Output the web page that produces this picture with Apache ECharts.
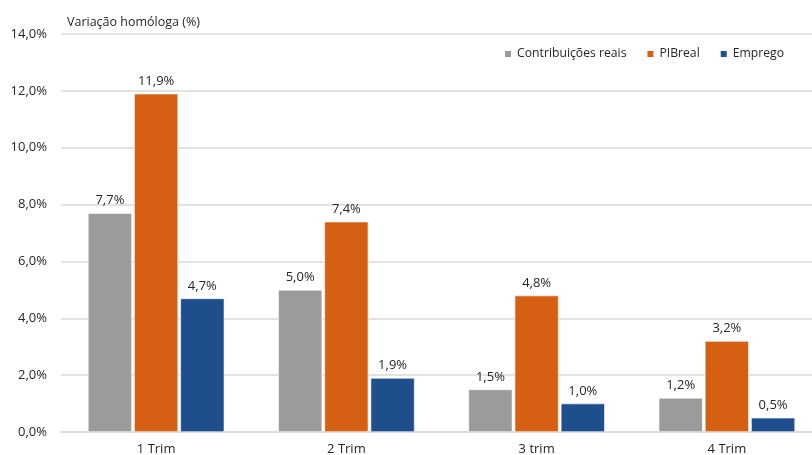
<!DOCTYPE html>
<html>
<head>
<meta charset="utf-8">
<script src="https://cdn.jsdelivr.net/npm/echarts@6/dist/echarts.min.js"></script>
<style>
  html, body { margin: 0; padding: 0; background: #fff; }
  #chart { width: 812px; height: 455px; }
</style>
</head>
<body>
<div id="chart"></div>
<script>
// Quarterly year-on-year change (%)
const categories = ['1 Trim', '2 Trim', '3 trim', '4 Trim'];
const contribuicoes = [7.7, 5.0, 1.5, 1.2];
const pibReal = [11.9, 7.4, 4.8, 3.2];
const emprego = [4.7, 1.9, 1.0, 0.5];
const yTicks = [0, 2, 4, 6, 8, 10, 12, 14];

const FONT = '"Open Sans", "Noto Sans", sans-serif';
const fmt = v => v.toFixed(1).replace('.', ',') + '%';

function barSeries(name, data, color) {
  return {
    name: name,
    type: 'bar',
    data: data,
    barWidth: 44,
    barGap: '5%',
    itemStyle: { color: color, borderColor: '#ffffff', borderWidth: 0.6 },
    label: {
      show: true,
      position: 'top',
      distance: 6,
      color: '#262626',
      fontFamily: FONT,
      fontSize: 13,
      formatter: p => fmt(p.value)
    }
  };
}

const chart = echarts.init(document.getElementById('chart'), null, { renderer: 'canvas' });
chart.setOption({
  animation: false,
  backgroundColor: '#ffffff',
  textStyle: { fontFamily: FONT },
  // plot area runs a little past the right edge of the canvas
  grid: { left: 61, width: 761, top: 34, bottom: 23, containLabel: false, outerBoundsMode: 'none' },
  legend: {
    top: 48,
    right: 28,
    padding: 0,
    itemWidth: 8,
    itemHeight: 8,
    itemGap: 19,
    icon: 'rect',
    textStyle: { color: '#262626', fontSize: 12.2, fontFamily: FONT },
    data: ['Contribuições reais', 'PIBreal', 'Emprego']
  },
  title: {
    text: 'Variação homóloga (%)',
    left: 62,
    top: 11,
    textStyle: { fontSize: 12.5, fontWeight: 'normal', color: '#262626', fontFamily: FONT }
  },
  xAxis: {
    type: 'category',
    data: categories,
    axisLine: { show: true, lineStyle: { color: '#d9d9d9', width: 1.5 } },
    axisTick: { show: false },
    axisLabel: { color: '#262626', fontSize: 13, margin: 11, fontFamily: FONT }
  },
  yAxis: {
    type: 'value',
    min: yTicks[0],
    max: yTicks[yTicks.length - 1],
    interval: 2,
    axisLine: { show: false },
    axisTick: { show: false },
    splitLine: { lineStyle: { color: '#d9d9d9', width: 1.5 } },
    axisLabel: { color: '#262626', fontSize: 13, margin: 14, fontFamily: FONT, formatter: v => fmt(v) }
  },
  series: [
    barSeries('Contribuições reais', contribuicoes, '#9b9b9b'),
    barSeries('PIBreal', pibReal, '#d56014'),
    barSeries('Emprego', emprego, '#1f4e8c')
  ]
});
</script>
</body>
</html>
